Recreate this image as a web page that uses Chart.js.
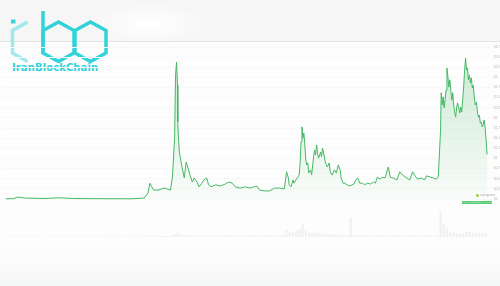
<!DOCTYPE html>
<html>
<head>
<meta charset="utf-8">
<script src="https://cdn.jsdelivr.net/npm/chart.js@4.4.1/dist/chart.umd.min.js"></script>
<style>
  html,body{margin:0;padding:0;width:500px;height:286px;overflow:hidden;background:#fdfdfd;font-family:"DejaVu Sans",sans-serif}
  #top{position:absolute;left:0;top:0;width:500px;height:41px;background:radial-gradient(ellipse 60px 22px at 150px 24px,#ffffff,rgba(255,255,255,0) 100%),#f6f6f6;border-bottom:1px solid #e4e4e4}
  #foot{position:absolute;left:0;top:246px;width:500px;height:40px;background:linear-gradient(#fdfdfd,#f6f7f7)}
  #logo{position:absolute;left:0;top:0}
  #brand{position:absolute;left:12px;top:62px;font:bold 10px "DejaVu Sans",sans-serif;color:#2fd2d7;letter-spacing:0.1px;white-space:nowrap}
  #c{position:absolute;left:0;top:0}
  #lg{position:absolute;left:476px;top:193px;font-size:3px;color:#9a9a9a;white-space:nowrap;line-height:4px}
  #lg i{display:inline-block;width:3px;height:3px;border-radius:50%;background:#9ccc3c;margin-right:1px;vertical-align:middle}
  #rng{position:absolute;left:462px;top:201px;display:flex;gap:0.5px;background:#a8e6b6}
  #rng span{display:block;width:2.5px;height:3px;background:#56cc74;font-size:1.5px;line-height:3px;color:#e8fff0;text-align:center;overflow:hidden}
</style>
</head>
<body>
<div id="top"></div>
<div id="foot"></div>
<svg id="logo" width="120" height="76" viewBox="0 0 120 76">
  <rect x="11" y="19.5" width="4.5" height="4" fill="#36d4d8"/>
  <polyline points="27.5,22 12.5,30.5 12.5,53 27.5,61.5" fill="none" stroke="#9fe9eb" stroke-width="3.5"/>
  <line x1="43" y1="11" x2="43" y2="54" stroke="#31d3d8" stroke-width="3.5"/>
  <polygon points="58.5,22 74,30.5 74,53 58.5,61.5 43,53 43,30.5" fill="none" stroke="#31d3d8" stroke-width="3.5"/>
  <polygon points="90.5,22 106,30.5 106,53 90.5,61.5 75,53 75,30.5" fill="none" stroke="#31d3d8" stroke-width="3.5"/>
</svg>
<div id="brand">IranBlockChain</div>
<canvas id="c" width="500" height="286"></canvas>
<div id="lg"><i></i>coingecko</div>
<div id="rng"><span>24h</span><span>7d</span><span>14d</span><span>30d</span><span>90d</span><span>180d</span><span>1y</span><span>2y</span><span>5y</span><span>Max</span></div>
<script>
// XRP/USD — цена и объём
const priceDates = [
  '2013-08-01','2013-10-15','2013-11-21','2014-01-25','2014-07-28','2014-12-16','2015-05-04','2016-02-07','2016-11-13',
  '2017-03-04','2017-04-10','2017-04-28','2017-05-16','2017-06-04','2017-07-13','2017-08-19','2017-09-16','2017-11-10',
  '2017-11-28','2017-12-19','2017-12-28','2018-01-07','2018-01-16','2018-01-19','2018-01-24','2018-02-03','2018-02-12',
  '2018-02-21','2018-03-10','2018-03-19','2018-04-07','2018-04-25','2018-05-13','2018-06-04','2018-06-22','2018-07-19',
  '2018-08-07','2018-09-04','2018-09-22','2018-10-19','2018-11-07','2018-11-28','2019-01-13','2019-02-28','2019-04-13',
  '2019-05-13','2019-06-19','2019-07-16','2019-09-01','2019-10-18','2019-12-04','2020-02-07','2020-03-04','2020-04-21',
  '2020-06-07','2020-07-22','2020-09-07','2020-10-25','2020-11-16','2020-12-01','2020-12-10','2020-12-28','2021-01-16',
  '2021-01-25','2021-02-13','2021-03-01','2021-03-13','2021-03-22','2021-04-01','2021-04-10','2021-04-19','2021-04-28',
  '2021-05-07','2021-05-16','2021-05-25','2021-06-04','2021-06-13','2021-07-01','2021-07-10','2021-07-28','2021-08-07',
  '2021-08-16','2021-08-28','2021-09-07','2021-09-16','2021-10-04','2021-10-13','2021-10-22','2021-11-10','2021-11-19',
  '2021-12-07','2021-12-25','2022-01-04','2022-01-22','2022-02-13','2022-03-01','2022-03-19','2022-04-07','2022-04-16',
  '2022-05-04','2022-05-22','2022-06-10','2022-07-07','2022-08-16','2022-09-04','2022-09-22','2022-10-10','2022-11-07',
  '2022-11-25','2022-12-22','2023-01-22','2023-02-19','2023-03-07','2023-03-25','2023-04-22','2023-05-10','2023-06-07',
  '2023-07-07','2023-07-25','2023-08-22','2023-09-28','2023-10-25','2023-11-22','2024-01-01','2024-01-28','2024-02-25',
  '2024-03-13','2024-04-10','2024-05-16','2024-06-16','2024-07-04','2024-08-10','2024-09-07','2024-10-04','2024-10-25',
  '2024-11-07','2024-11-16','2024-11-22','2024-12-01','2024-12-10','2024-12-19','2024-12-28','2025-01-07','2025-01-16',
  '2025-01-25','2025-02-04','2025-02-13','2025-02-22','2025-03-01','2025-03-10','2025-03-19','2025-03-28','2025-04-07',
  '2025-04-16','2025-04-25','2025-05-07','2025-05-16','2025-05-25','2025-06-04','2025-06-13','2025-06-22','2025-07-01',
  '2025-07-10','2025-07-19','2025-07-28','2025-08-07','2025-08-16','2025-08-25','2025-09-04','2025-09-13','2025-09-22',
  '2025-10-01','2025-10-10','2025-10-22','2025-11-01','2025-11-10','2025-11-19','2025-11-28','2025-12-07','2025-12-16',
  '2025-12-25','2026-01-04','2026-01-13','2026-01-22','2026-02-01'
];
const prices = [
  0.005,0.01,0.049,0.025,0.012,0.03,0.012,0.007,0.006,
  0.025,0.15,0.39,0.30,0.22,0.22,0.25,0.27,0.22,
  0.52,1.50,3.06,3.38,2.81,1.90,1.58,1.16,1.04,
  0.89,0.64,0.52,0.91,0.76,0.59,0.42,0.52,0.42,
  0.30,0.39,0.47,0.52,0.35,0.30,0.35,0.32,0.37,
  0.42,0.39,0.30,0.27,0.30,0.27,0.32,0.22,0.20,
  0.20,0.27,0.27,0.25,0.67,0.54,0.35,0.30,0.47,
  0.39,0.47,0.54,0.59,0.84,1.41,1.78,1.50,1.63,
  1.33,0.96,0.84,0.89,0.64,0.72,0.59,1.01,1.21,
  1.09,1.33,1.09,1.01,1.16,1.04,1.26,1.04,0.91,
  0.79,0.89,0.67,0.59,0.72,0.64,0.84,0.72,0.52,
  0.39,0.39,0.35,0.32,0.37,0.47,0.52,0.39,0.39,
  0.35,0.39,0.37,0.42,0.39,0.54,0.49,0.54,0.52,
  0.79,0.54,0.52,0.47,0.67,0.59,0.52,0.47,0.67,
  0.59,0.49,0.52,0.47,0.57,0.54,0.52,0.49,0.54,
  1.21,1.70,2.62,2.32,2.52,2.25,2.44,2.69,3.23,
  3.01,2.76,2.94,2.69,2.44,2.62,2.32,2.15,2.02,
  2.25,2.37,2.25,2.12,2.27,2.15,2.44,2.76,3.18,
  3.48,3.18,3.23,2.94,3.06,2.86,2.99,2.74,2.81,
  2.52,2.32,2.39,2.15,2.02,2.07,1.87,1.90,1.78,
  1.83,1.95,1.75,1.46,1.10
];
// месячный объём (у.е.), с авг. 2013
const volumes = [
  0.2,0.2,0.2,0.2,0.2,0.2,0.2,0.2,0.2,0.2,
  0.2,0.2,0.2,0.2,0.2,0.2,0.2,0.2,0.2,0.2,
  0.2,0.2,0.2,0.2,0.2,0.2,0.2,0.2,0.2,0.2,
  0.3,0.3,0.3,0.3,0.3,0.3,0.3,0.3,0.3,0.3,
  0.3,0.3,0.3,0.3,0.3,0.8,1,0.8,0.7,0.8,
  0.7,1.2,2.5,4,2.5,1.5,1.5,1.2,1,1,
  1,1,1,1,1,1,1,1,1,2,
  1,1,1,1.2,1,1,1,1.2,1,1,
  1,1.2,1,1,1,1.2,2,7,4,5,
  6,8,13,6,4,3,4,3,3,2.5,
  2.5,2.5,2,2,2,1.5,1.5,19,1.5,1.2,
  1.2,1.2,1.2,1.2,1.2,1.2,1.2,1.2,1.2,1.2,
  1.2,1.2,1.2,1.2,1.2,1.2,1.2,1.2,1.2,1.2,
  1.2,1.2,1.2,1.2,1.2,25,13,8,5,4,
  3.5,3,3,5,5,4,4,3.5,3.5,4
];
const tickLabels = [
  'Oct 13',
  'Jan 14','Apr 14','Jul 14','Oct 14','Jan 15','Apr 15','Jul 15','Oct 15',
  'Jan 16','Apr 16','Jul 16','Oct 16','Jan 17','Apr 17','Jul 17','Oct 17',
  'Jan 18','Apr 18','Jul 18','Oct 18','Jan 19','Apr 19','Jul 19','Oct 19',
  'Jan 20','Apr 20','Jul 20','Oct 20','Jan 21','Apr 21','Jul 21','Oct 21',
  'Jan 22','Apr 22','Jul 22','Oct 22','Jan 23','Apr 23','Jul 23','Oct 23',
  'Jan 24','Apr 24','Jul 24','Oct 24','Jan 25','Apr 25','Jul 25','Oct 25',
  'Jan 26'
];
const priceTicks = [0,0.25,0.5,0.75,1,1.25,1.5,1.75,2,2.25,2.5,2.75,3,3.25,3.5,3.75];

// месяцы от авг. 2013
const mIdx = d => { const [y,m,dd] = d.split('-').map(Number); return (y-2013)*12 + (m-8) + (dd-1)/30.5 };
const G = '#45b865';

new Chart(document.getElementById('c'), {
  data: {
    datasets: [
      {type:'line', label:'Price', data: priceDates.map((d,i)=>({x:mIdx(d), y:prices[i]})),
       borderColor:G, borderWidth:1, pointRadius:0, tension:0, fill:'origin', order:0,
       backgroundColor: ctx => {
         const ch = ctx.chart, a = ch.chartArea;
         if (!a) return 'rgba(69,184,101,0.1)';
         const g = ch.ctx.createLinearGradient(0, a.top, 0, ch.scales.y.getPixelForValue(0));
         g.addColorStop(0, 'rgba(69,184,101,0.28)');
         g.addColorStop(1, 'rgba(69,184,101,0.02)');
         return g;
       }},
      {type:'bar', label:'Volume', data: volumes.map((v,i)=>({x:i+0.5, y:v})), yAxisID:'v',
       backgroundColor:'#eef0f2', barThickness:1.5, order:1}
    ]
  },
  options: {
    responsive:false, animation:false,
    layout:{padding:{left:1, top:47, right:0, bottom:43}},
    plugins:{legend:{display:false}, tooltip:{enabled:false}},
    scales:{
      x:{type:'linear', min:0, max:150, grid:{display:false}, border:{display:false},
         afterBuildTicks: s => { s.ticks = tickLabels.map((_,i)=>({value:2+3*i})) },
         afterFit: s => { s.height = 6 },
         ticks:{autoSkip:false, maxRotation:0, padding:1, color:'#c3c3c3', font:{size:3},
                callback:(v,i)=>tickLabels[i]}},
      y:{position:'right', min:-0.9375, max:3.75, border:{display:false},
         afterBuildTicks: s => { s.ticks = priceTicks.map(v=>({value:v})) },
         afterFit: s => { s.width = 8 },
         grid:{color:'#f8f8f8', drawTicks:false},
         ticks:{padding:2, color:'#b8b8b8', font:{size:3}, callback:v=>'$'+v}},
      v:{display:false, min:0, max:190}
    }
  }
});
</script>
</body>
</html>
